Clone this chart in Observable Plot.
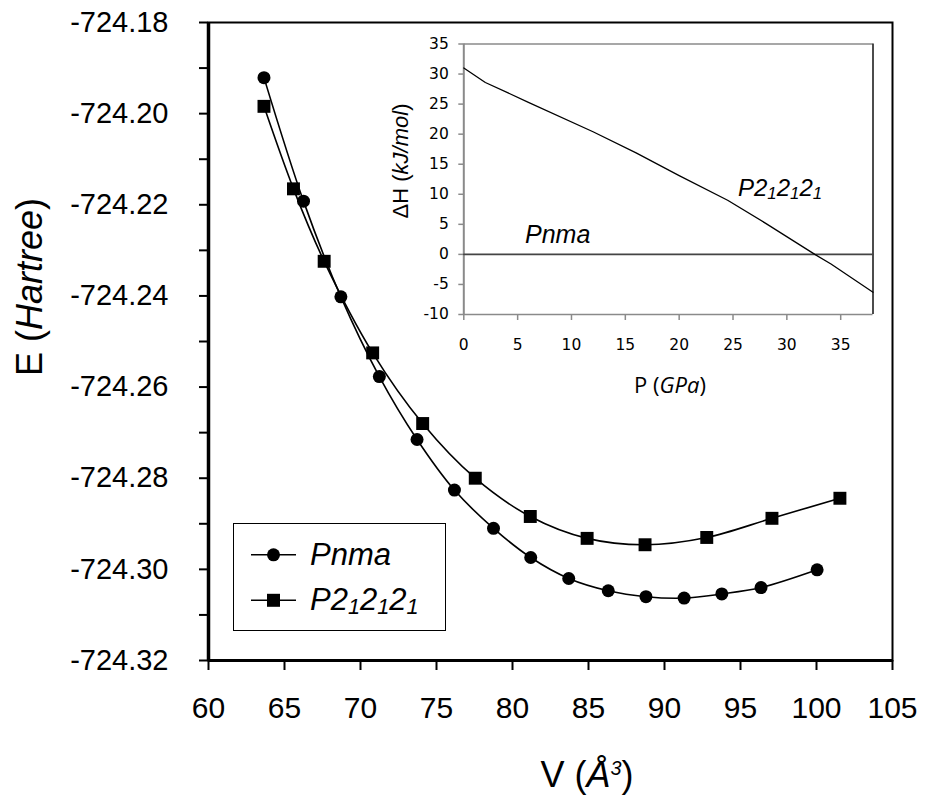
<!DOCTYPE html>
<html>
<head>
<meta charset="utf-8">
<script src="https://cdn.jsdelivr.net/npm/d3@7"></script>
<script src="https://cdn.jsdelivr.net/npm/@observablehq/plot@0.6"></script>
<style>
  body { margin: 0; background: #fff; }
  #wrap { position: relative; width: 925px; height: 803px; font-family: "Liberation Sans", Arial, sans-serif; color: #000; }
  #wrap svg { position: absolute; }
  .lbl { position: absolute; white-space: nowrap; line-height: 1; }
  .sub { position: relative; font-size: 70%; top: 0.2em; }
  .sup { position: relative; font-size: 55%; top: -0.6em; }
  #legend { position: absolute; box-sizing: border-box; border: 1.5px solid #000; background: #fff; }
</style>
</head>
<body>
<div id="wrap"></div>
<script>
// Energy–volume curves of the two phases (V in Å³, E in Hartree)
const pnmaV = [63.65, 66.25, 68.71, 71.24, 73.72, 76.18, 78.75, 81.2, 83.7, 86.3, 88.78, 91.29, 93.77, 96.35, 100.04];
const pnmaE = [-724.1921, -724.2192, -724.2402, -724.2577, -724.2715, -724.2826, -724.2910, -724.2974, -724.3020, -724.3047, -724.3060, -724.3063, -724.3054, -724.3040, -724.3001];
const p212121V = [63.65, 65.59, 67.61, 70.80, 74.09, 77.55, 81.17, 84.91, 88.72, 92.78, 97.07, 101.54];
const p212121E = [-724.1984, -724.2165, -724.2324, -724.2525, -724.2680, -724.2800, -724.2884, -724.2932, -724.2946, -724.2930, -724.2888, -724.2844];

// Enthalpy difference ΔH (kJ/mol) of P2₁2₁2₁ relative to Pnma versus pressure P (GPa)
const dhP = [0, 2, 6, 12, 16, 20, 24.5, 28, 32.6, 34.1, 38];
const dhH = [31.0, 28.6, 25.3, 20.4, 16.9, 13.1, 9.0, 5.2, 0, -1.6, -6.3];
const refP = [0, 38];
const refH = [0, 0];

// Tick values
const xTicks = [60, 65, 70, 75, 80, 85, 90, 95, 100, 105];
const yMajor = [-724.32, -724.30, -724.28, -724.26, -724.24, -724.22, -724.20, -724.18];
const yMinor = [-724.31, -724.29, -724.27, -724.25, -724.23, -724.21, -724.19];
const insetXTicks = [0, 5, 10, 15, 20, 25, 30, 35];
const insetYTicks = [-10, -5, 0, 5, 10, 15, 20, 25, 30, 35];

const pnma = pnmaV.map((v, i) => ({V: v, E: pnmaE[i]}));
const p212121 = p212121V.map((v, i) => ({V: v, E: p212121E[i]}));
const dh = dhP.map((p, i) => ({P: p, H: dhH[i]}));
const ref = refP.map((p, i) => ({P: p, H: refH[i]}));

const wrap = document.getElementById("wrap");
const sans = "'Liberation Sans', Arial, sans-serif";

const main = Plot.plot({
  width: 925,
  height: 803,
  marginLeft: 208,
  marginRight: 33,
  marginTop: 22,
  marginBottom: 143,
  x: {domain: [60, 105]},
  y: {domain: [-724.32, -724.18]},
  style: {background: "transparent", fontFamily: sans, fontSize: "30px", color: "#000", overflow: "visible"},
  marks: [
    Plot.axisY({ticks: yMinor, tickFormat: () => "", tickSize: 9, strokeWidth: 2, label: null}),
    Plot.axisY({ticks: yMajor, tickFormat: d => d.toFixed(2), tickSize: 9, tickPadding: 31, strokeWidth: 2, fontSize: 29, label: null}),
    Plot.axisX({ticks: xTicks, tickFormat: d => String(d), tickSize: 10, tickPadding: 26, strokeWidth: 2, fontSize: 30, label: null}),
    Plot.frame({stroke: "#000", strokeWidth: 2}),
    Plot.ruleX([60], {stroke: "#000", strokeWidth: 3.5}),
    Plot.ruleY([-724.32], {stroke: "#000", strokeWidth: 3}),
    Plot.line(pnma, {x: "V", y: "E", curve: "catmull-rom", stroke: "#000", strokeWidth: 1.6}),
    Plot.line(p212121, {x: "V", y: "E", curve: "catmull-rom", stroke: "#000", strokeWidth: 1.6}),
    Plot.dot(pnma, {x: "V", y: "E", r: 6.5, symbol: "circle", fill: "#000"}),
    Plot.dot(p212121, {x: "V", y: "E", r: 7.3, symbol: "square", fill: "#000"})
  ]
});
main.style.left = "0px";
main.style.top = "0px";
wrap.append(main);

const inset = Plot.plot({
  width: 475,
  height: 370,
  marginLeft: 48.3,
  marginRight: 17.5,
  marginTop: 13.5,
  marginBottom: 86,
  x: {domain: [0, 38]},
  y: {domain: [-10, 35]},
  style: {background: "transparent", fontFamily: "'DejaVu Sans', sans-serif", fontSize: "15.5px", color: "#000", overflow: "visible"},
  marks: [
    Plot.axisY({ticks: insetYTicks, tickFormat: d => String(d), tickSize: 5, tickPadding: 10, stroke: "#8a8a8a", fill: "#000", strokeWidth: 1.5, fontSize: 15.5, label: null}),
    Plot.axisX({ticks: insetXTicks, tickFormat: d => String(d), tickSize: 6, tickPadding: 18, stroke: "#8a8a8a", fill: "#000", strokeWidth: 1.5, fontSize: 15.5, label: null}),
    Plot.ruleY([35], {stroke: "#8a8a8a", strokeWidth: 1.5}),
    Plot.ruleY([-10], {stroke: "#8a8a8a", strokeWidth: 1.5}),
    Plot.ruleX([0], {stroke: "#8a8a8a", strokeWidth: 2}),
    Plot.ruleX([38], {stroke: "#111", strokeWidth: 1.5}),
    Plot.line(ref, {x: "P", y: "H", stroke: "#444", strokeWidth: 1.6}),
    Plot.line(dh, {x: "P", y: "H", stroke: "#000", strokeWidth: 1.3})
  ]
});
inset.style.left = "415px";
inset.style.top = "30px";
wrap.append(inset);

// Text labels with mixed styles (italics, sub/superscripts)
function label(html, css) {
  const d = document.createElement("div");
  d.className = "lbl";
  d.innerHTML = html;
  Object.assign(d.style, css);
  wrap.append(d);
  return d;
}

label("E (<i>Hartree</i>)", {left: "30px", top: "287px", fontSize: "36px", transform: "translate(-50%,-50%) rotate(-90deg)"});
label("V (<i>Å<span class='sup'>3</span></i>)", {left: "587px", top: "775px", fontSize: "36px", transform: "translate(-50%,-50%)"});
label("ΔH (<i>kJ/mol</i>)", {left: "401px", top: "161px", fontSize: "22px", transform: "translate(-50%,-50%) rotate(-90deg)"});
label("P (<i>GPa</i>)", {left: "670px", top: "384px", fontSize: "22px", fontFamily: "'Open Sans', sans-serif", transform: "translate(-50%,-50%)"});
label("<i>Pnma</i>", {left: "525px", top: "221.5px", fontSize: "25px"});
label("<i>P2<span class='sub'>1</span>2<span class='sub'>1</span>2<span class='sub'>1</span></i>", {left: "738px", top: "176px", fontSize: "24px"});

// Legend
const legend = document.createElement("div");
legend.id = "legend";
Object.assign(legend.style, {left: "233px", top: "522.5px", width: "213px", height: "108.5px"});
wrap.append(legend);
const sw = d3.create("svg").attr("width", 60).attr("height", 100)
  .style("left", "15px").style("top", "0px");
sw.append("line").attr("x1", 2).attr("x2", 47).attr("y1", 30.8).attr("y2", 30.8).attr("stroke", "#000").attr("stroke-width", 1.6);
sw.append("circle").attr("cx", 24.5).attr("cy", 30.8).attr("r", 6.5).attr("fill", "#000");
sw.append("line").attr("x1", 2).attr("x2", 47).attr("y1", 76.3).attr("y2", 76.3).attr("stroke", "#000").attr("stroke-width", 1.6);
sw.append("rect").attr("x", 18).attr("y", 69.8).attr("width", 13).attr("height", 13).attr("fill", "#000");
legend.append(sw.node());
label("<i>Pnma</i>", {left: "310px", top: "539px", fontSize: "31px"});
label("<i>P2<span class='sub'>1</span>2<span class='sub'>1</span>2<span class='sub'>1</span></i>", {left: "310px", top: "584px", fontSize: "31px"});
</script>
</body>
</html>
